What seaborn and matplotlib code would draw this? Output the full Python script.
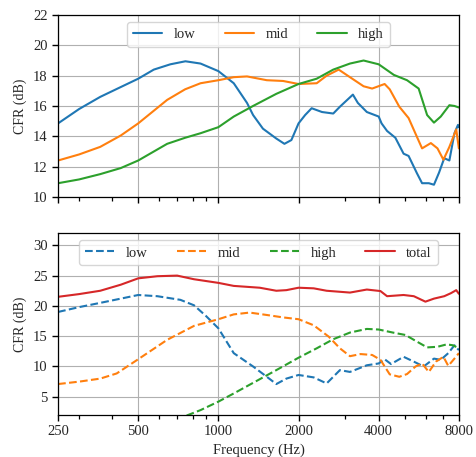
import numpy as np
import matplotlib
matplotlib.use("Agg")
import matplotlib.pyplot as plt
import matplotlib.ticker as mticker
import seaborn as sns

# --- top panel: CFR per band ---
top_low_f = [250, 300, 360, 430, 500, 572, 660, 752, 857, 1000, 1142, 1281, 1350, 1470,
             1650, 1770, 1880, 2000, 2117, 2240, 2450, 2700, 2860, 3200, 3340, 3610,
             4000, 4100, 4300, 4620, 4960, 5180, 5570, 5820, 6170, 6450, 6740, 7050,
             7370, 7700, 7940, 8000]
top_low = [14.85, 15.8, 16.6, 17.25, 17.8, 18.4, 18.75, 18.95, 18.8, 18.3, 17.5, 16.2,
           15.4, 14.5, 13.85, 13.5, 13.75, 14.85, 15.4, 15.85, 15.6, 15.5, 15.95, 16.75,
           16.2, 15.6, 15.3, 14.85, 14.35, 13.9, 12.85, 12.7, 11.55, 10.9, 10.9, 10.8,
           11.6, 12.55, 12.4, 14.2, 14.75, 14.6]

top_mid_f = [250, 300, 360, 430, 500, 642, 750, 857, 1000, 1142, 1281, 1520, 1750, 2000,
             2340, 2550, 2830, 3120, 3510, 3780, 4210, 4400, 4780, 5180, 5570, 5820,
             6280, 6650, 7000, 7370, 7820, 8000]
top_mid = [12.4, 12.8, 13.3, 14.05, 14.85, 16.4, 17.1, 17.5, 17.7, 17.9, 17.95, 17.7,
           17.65, 17.45, 17.5, 18.0, 18.4, 17.9, 17.3, 17.15, 17.45, 17.1, 15.95, 15.2,
           13.95, 13.2, 13.55, 13.2, 12.45, 13.3, 14.45, 13.2]

top_high_f = [250, 300, 360, 430, 500, 642, 750, 857, 1000, 1142, 1350, 1650, 2000,
              2340, 2700, 3120, 3510, 4000, 4560, 5110, 5650, 6080, 6450, 6840, 7370,
              7700, 8000]
top_high = [10.9, 11.15, 11.5, 11.9, 12.4, 13.5, 13.9, 14.2, 14.6, 15.3, 16.0, 16.8,
            17.45, 17.8, 18.4, 18.8, 19.0, 18.75, 18.05, 17.7, 17.15, 15.4, 14.9, 15.3,
            16.05, 16.0, 15.9]

# --- bottom panel: CFR of each band plus total ---
bot_low_f = [250, 300, 360, 430, 500, 590, 720, 810, 900, 1000, 1142, 1350, 1520, 1650,
             1800, 2000, 2280, 2550, 2860, 3120, 3610, 4000, 4210, 4450, 4960, 5420,
             5900, 6450, 6840, 7300, 7700, 8000]
bot_low = [19.0, 19.8, 20.5, 21.2, 21.8, 21.6, 21.0, 20.1, 18.3, 16.3, 12.2, 10.0, 8.3,
           7.1, 8.0, 8.6, 8.2, 7.2, 9.4, 9.1, 10.2, 10.5, 11.2, 10.4, 11.6, 10.8, 10.0,
           11.3, 11.1, 12.2, 13.5, 12.7]

bot_mid_f = [250, 300, 360, 415, 500, 642, 810, 1000, 1142, 1310, 1520, 1750, 2000,
             2280, 2600, 2860, 3120, 3420, 3780, 4060, 4400, 4780, 5110, 5500, 5820,
             6170, 6560, 7000, 7300, 7700, 8000]
bot_mid = [7.1, 7.5, 8.0, 8.85, 11.2, 14.4, 16.7, 17.8, 18.6, 18.9, 18.5, 18.1, 17.8,
           16.8, 14.9, 13.0, 11.7, 12.05, 11.9, 11.1, 8.7, 8.3, 8.75, 10.0, 10.5, 9.1,
           10.8, 11.6, 10.1, 11.3, 12.2]

bot_high_f = [760, 857, 1000, 1142, 1350, 1650, 2000, 2340, 2700, 3120, 3610, 4000,
              4520, 5040, 5570, 6080, 6650, 7200, 7600, 8000]
bot_high = [1.9, 2.8, 4.2, 5.55, 7.3, 9.4, 11.45, 13.0, 14.5, 15.6, 16.2, 16.1, 15.6,
            15.2, 14.1, 13.15, 13.25, 13.65, 13.5, 13.0]

bot_total_f = [250, 300, 360, 430, 500, 590, 700, 810, 1000, 1142, 1430, 1650, 1800,
               2000, 2280, 2550, 3120, 3610, 4060, 4300, 4960, 5420, 5990, 6450, 7050,
               7470, 7820, 8000]
bot_total = [21.5, 21.95, 22.5, 23.5, 24.55, 24.9, 25.0, 24.4, 23.8, 23.3, 23.0, 22.5,
             22.6, 23.0, 22.9, 22.5, 22.2, 22.7, 22.45, 21.6, 21.8, 21.6, 20.7, 21.2,
             21.6, 22.1, 22.6, 22.0]

xticks = [250, 500, 1000, 2000, 4000, 8000]
xminor = [300, 400, 600, 700, 800, 900, 3000, 5000, 6000, 7000]

sns.set_style("ticks", {"axes.grid": True, "grid.color": "#b0b0b0",
                        "axes.edgecolor": "black"})
plt.rcParams["font.family"] = ["Liberation Serif", "DejaVu Serif"]
plt.rcParams["font.size"] = 10.5

pal = sns.color_palette("tab10")

fig, (ax1, ax2) = plt.subplots(2, 1, figsize=(4.76, 4.57), dpi=100, sharex=True)
fig.subplots_adjust(left=0.122, right=0.964, top=0.967, bottom=0.092, hspace=0.2)

sns.lineplot(x=top_low_f, y=top_low, ax=ax1, color=pal[0], lw=1.5, label="low")
sns.lineplot(x=top_mid_f, y=top_mid, ax=ax1, color=pal[1], lw=1.5, label="mid")
sns.lineplot(x=top_high_f, y=top_high, ax=ax1, color=pal[2], lw=1.5, label="high")

sns.lineplot(x=bot_low_f, y=bot_low, ax=ax2, color=pal[0], lw=1.5, ls="--", label="low")
sns.lineplot(x=bot_mid_f, y=bot_mid, ax=ax2, color=pal[1], lw=1.5, ls="--", label="mid")
sns.lineplot(x=bot_high_f, y=bot_high, ax=ax2, color=pal[2], lw=1.5, ls="--", label="high")
sns.lineplot(x=bot_total_f, y=bot_total, ax=ax2, color=pal[3], lw=1.5, label="total")

ax2.set_xscale("log")
ax2.set_xlim(250, 8000)
for ax in (ax1, ax2):
    ax.xaxis.set_major_locator(mticker.FixedLocator(xticks))
    ax.xaxis.set_major_formatter(mticker.FixedFormatter([str(t) for t in xticks]))
    ax.xaxis.set_minor_locator(mticker.FixedLocator(xminor))
    ax.xaxis.set_minor_formatter(mticker.NullFormatter())
    ax.set_ylabel("CFR (dB)", fontsize=10)
    for s in ax.spines.values():
        s.set_linewidth(0.9)
    ax.tick_params(which="major", length=4, width=1.0, color="black")
    ax.tick_params(which="minor", bottom=True, length=2.8, width=0.9, color="black")

ax1.set_ylim(10, 22)
ax1.set_yticks([10, 12, 14, 16, 18, 20, 22])
ax1.tick_params(labelbottom=False)
ax1.set_xlabel("")
ax1.legend(loc="upper center", ncol=3, fontsize=10.5, edgecolor="#cccccc")

ax2.set_ylim(2, 32)
ax2.set_yticks([5, 10, 15, 20, 25, 30])
ax2.set_xlabel("Frequency (Hz)")
ax2.legend(loc="upper center", ncol=4, fontsize=10.5, edgecolor="#cccccc")

fig.savefig("out.png", dpi=100)
